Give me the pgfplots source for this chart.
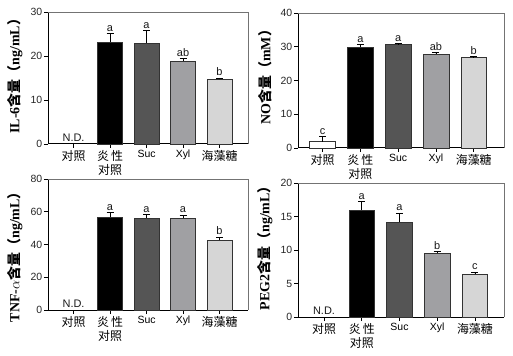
\documentclass[border=0pt]{standalone}
\usepackage{fontspec}
\setmainfont{Liberation Serif}
\setsansfont{Liberation Sans}
\newfontfamily\cjk{Noto Sans CJK SC}
\usepackage{pgfplots}
\pgfplotsset{compat=1.18}
\definecolor{cSuc}{HTML}{555555}
\definecolor{cXyl}{HTML}{A0A0A3}
\definecolor{cTre}{HTML}{D6D6D6}
\newcommand{\yl}[2]{{\bfseries #1}{\cjk\bfseries 含量（}{\bfseries #2}{\cjk\bfseries ）}}
\newcommand{\ck}{\cjk\fontsize{12}{14}\selectfont}
\pgfplotsset{
  panel/.style={
    scale only axis, anchor=south west, clip=false,
    xmin=-0.7, xmax=4.78, ymin=0,
    xtick={0,1,2,3,4},
    xticklabels={{\ck 对照},{\ck 炎\,性\\\ck 对照},Suc,Xyl,{\ck 海藻糖}},
    xticklabel style={anchor=north, align=center, font=\sffamily\fontsize{10.5}{14}\selectfont, inner sep=1bp, yshift=-1bp},
    yticklabel style={font=\sffamily\fontsize{10.5}{10.5}\selectfont, black!85, inner sep=1.5bp},
    /pgf/number format/assume math mode=true,
    axis x line*=bottom, axis y line*=left,
    axis line style={-, line width=1pt, black},
    tick align=outside, major tick length=4bp,
    tick style={line width=0.8pt, black},
    minor tick num=0,
    ylpos/.initial=0.5,
    every axis y label/.style={at={([xshift=-33bp]rel axis cs:0,\pgfkeysvalueof{/pgfplots/ylpos})}, rotate=90, anchor=center, font=\fontsize{14}{14}\selectfont},
    after end axis/.code={\draw[black!55, line width=0.6pt] (rel axis cs:0,1) -- (rel axis cs:1,1) -- (rel axis cs:1,0);},
  },
  bars/.style={ybar, bar width=0.68, bar shift=0pt, draw=black!80, line width=0.6pt,
    error bars/y dir=plus, error bars/y explicit,
    error bars/error bar style={line width=0.8pt, black},
    error bars/error mark options={rotate=90, mark size=3.5bp, line width=0.8pt, black}},
  letters/.style={draw=none, mark=none, nodes near coords, point meta=explicit symbolic,
    every node near coord/.style={anchor=south, font=\sffamily\fontsize{11}{11}\selectfont, inner sep=0pt, yshift=2bp, black!90}},
}
\begin{document}
\begin{tikzpicture}
\path[use as bounding box] (0,0) rectangle (513bp,356bp);
% IL-6
\begin{axis}[panel, at={(48bp,212bp)}, width=200bp, height=132bp, ylpos=0.54,
  ymax=30, ytick={0,10,20,30}, ylabel={\yl{IL-6}{ng/mL}}]
\addplot[bars, fill=black] coordinates {(1,23.2) +- (0,1.9)};
\addplot[bars, fill=cSuc] coordinates {(2,23.0) +- (0,2.8)};
\addplot[bars, fill=cXyl] coordinates {(3,18.9) +- (0,0.45)};
\addplot[bars, fill=cTre] coordinates {(4,14.7) +- (0,0.3)};
\addplot[letters] table[meta=l] {
x y l
0 0 N.D.
1 25.1 a
2 25.8 a
3 19.35 ab
4 15.0 b
};
\end{axis}
% NO
\begin{axis}[panel, at={(298bp,208bp)}, width=206bp, height=135bp, xmin=-0.65, xmax=4.8, ylpos=0.55,
  ymax=40, ytick={0,10,20,30,40}, ylabel={\yl{NO}{mM}}]
\addplot[bars, fill=white] coordinates {(0,1.9) +- (0,1.4)};
\addplot[bars, fill=black] coordinates {(1,29.8) +- (0,0.8)};
\addplot[bars, fill=cSuc] coordinates {(2,30.6) +- (0,0.3)};
\addplot[bars, fill=cXyl] coordinates {(3,27.8) +- (0,0.5)};
\addplot[bars, fill=cTre] coordinates {(4,26.8) +- (0,0.3)};
\addplot[letters] table[meta=l] {
x y l
0 3.3 c
1 30.6 a
2 30.9 a
3 28.3 ab
4 27.1 b
};
\end{axis}
% TNF
\begin{axis}[panel, at={(48bp,46bp)}, width=200bp, height=131bp, ylpos=0.43,
  ymax=80, ytick={0,20,40,60,80}, ylabel={\yl{TNF-$\alpha$}{ng/mL}}]
\addplot[bars, fill=black] coordinates {(1,56.5) +- (0,2.9)};
\addplot[bars, fill=cSuc] coordinates {(2,56.3) +- (0,2.1)};
\addplot[bars, fill=cXyl] coordinates {(3,55.9) +- (0,2.1)};
\addplot[bars, fill=cTre] coordinates {(4,42.7) +- (0,1.8)};
\addplot[letters] table[meta=l] {
x y l
0 0 N.D.
1 59.4 a
2 58.4 a
3 58.0 a
4 44.5 b
};
\end{axis}
% PEG2
\begin{axis}[panel, at={(298bp,39bp)}, width=206bp, height=134bp, xmin=-0.69, xmax=4.77, ylpos=0.54,
  ymax=20, ytick={0,5,10,15,20}, ylabel={\yl{PEG2}{ng/mL}}]
\addplot[bars, fill=black] coordinates {(1,16.0) +- (0,1.2)};
\addplot[bars, fill=cSuc] coordinates {(2,14.2) +- (0,1.3)};
\addplot[bars, fill=cXyl] coordinates {(3,9.5) +- (0,0.25)};
\addplot[bars, fill=cTre] coordinates {(4,6.4) +- (0,0.3)};
\addplot[letters] table[meta=l] {
x y l
0 0 N.D.
1 17.2 a
2 15.5 a
3 9.75 b
4 6.7 c
};
\end{axis}
\end{tikzpicture}
\end{document}
